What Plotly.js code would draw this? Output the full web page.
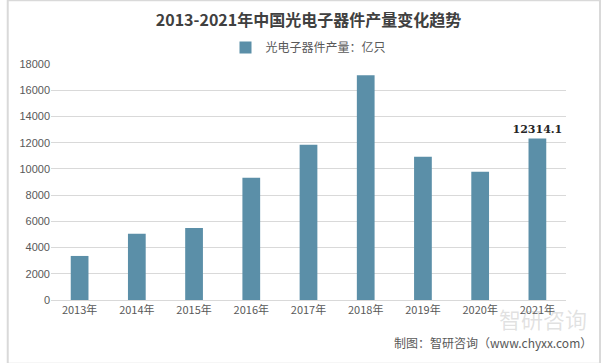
<!DOCTYPE html>
<html><head><meta charset="utf-8">
<script src="https://cdn.plot.ly/plotly-3.0.1.min.js"></script>
<style>html,body{margin:0;padding:0;background:#fff}#chart{width:606px;height:363px}</style>
</head><body><div id="chart"></div>
<script>
const years = ['2013年','2014年','2015年','2016年','2017年','2018年','2019年','2020年','2021年'];
const output = [3360, 5050, 5500, 9330, 11840, 17140, 10920, 9780, 12314.1];
const labels = ['', '', '', '', '', '', '', '', '12314.1'];
const seriesName = '光电子器件产量：亿只';
const yTicks = [0,2000,4000,6000,8000,10000,12000,14000,16000,18000];

const trace = {
  type: 'bar', x: years, y: output, name: seriesName,
  marker: {color: '#5b8fa8'},
  text: labels, textposition: 'outside', cliponaxis: false, constraintext: 'none',
  textfont: {family: 'DejaVu Serif, serif', size: 11, color: '#262626', weight: 'bold'},
  hoverinfo: 'none'
};
const layout = {
  width: 606, height: 363,
  margin: {l: 51, r: 40, t: 64, b: 63},
  paper_bgcolor: '#fff', plot_bgcolor: '#fff',
  title: {text: '<b>2013-2021年中国光电子器件产量变化趋势</b>', x: 0.5, xref: 'paper', y: 0.945, yanchor: 'middle',
    font: {family: 'Noto Sans CJK SC, sans-serif', size: 16, color: '#404040'}},
  showlegend: true,
  legend: {orientation: 'h', x: 0.5, xanchor: 'center', xref: 'paper', y: 1.07, yanchor: 'middle',
    font: {family: 'Noto Sans CJK SC, sans-serif', size: 12, color: '#595959'}, itemwidth: 30},
  bargap: 0.69,
  xaxis: {tickfont: {family: 'Noto Sans CJK SC, sans-serif', size: 11, color: '#595959'},
    showline: true, linecolor: '#d9d9d9', linewidth: 1, ticks: '', fixedrange: true},
  yaxis: {range: [0, 18000], tickvals: yTicks, ticktext: yTicks.map(String),
    tickfont: {family: 'Liberation Sans, Arial, sans-serif', size: 11, color: '#595959'},
    gridcolor: '#d9d9d9', gridwidth: 1, zeroline: false, showline: false, ticks: '', ticklen: 8, fixedrange: true},
  shapes: [{type: 'rect', xref: 'paper', yref: 'paper', x0: -0.084, x1: 1.066, y0: -0.27, y1: 1.27,
    line: {color: '#d9d9d9', width: 2}, fillcolor: 'rgba(0,0,0,0)'}],
  annotations: [
    {xref: 'paper', yref: 'paper', x: 1.045, y: 0.0, xanchor: 'right', yanchor: 'top', showarrow: false,
     text: '智研咨询', font: {family: 'Noto Sans CJK SC, sans-serif', size: 22, color: 'rgba(150,150,150,0.28)'}},
    {xref: 'paper', yref: 'paper', x: 1.055, y: -0.135, xanchor: 'right', yanchor: 'top', showarrow: false,
     text: '制图：智研咨询（www.chyxx.com）', font: {family: 'Noto Sans CJK SC, sans-serif', size: 12, color: '#595959'}}
  ]
};
Plotly.newPlot('chart', [trace], layout, {displayModeBar: false, staticPlot: true});
</script></body></html>
